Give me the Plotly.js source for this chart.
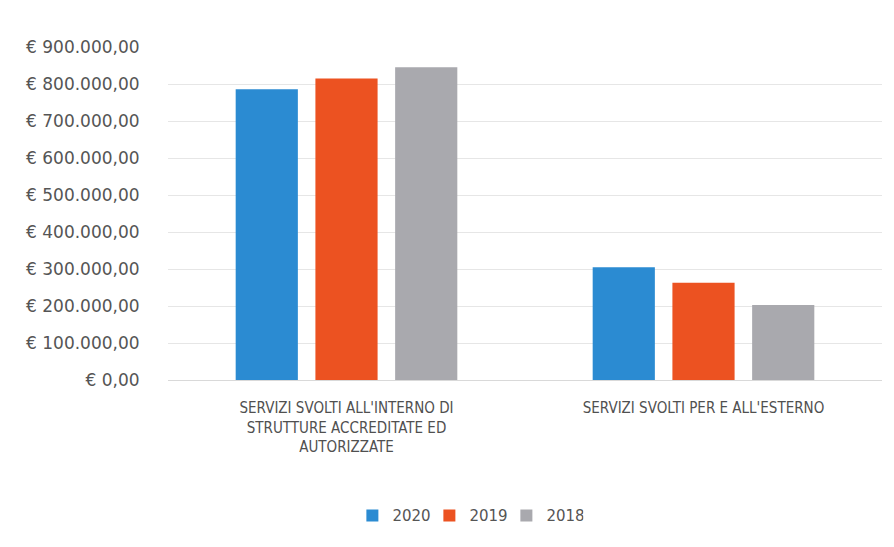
<!DOCTYPE html>
<html>
<head>
<meta charset="utf-8">
<script src="https://cdn.plot.ly/plotly-3.0.1.min.js"></script>
<style>
  html, body { margin: 0; padding: 0; background: #ffffff; }
  #chart { width: 894px; height: 547px; }
</style>
</head>
<body>
<div id="chart"></div>
<script>
const categories = [
  "SERVIZI SVOLTI ALL'INTERNO DI<br>STRUTTURE ACCREDITATE ED<br>AUTORIZZATE",
  "SERVIZI SVOLTI PER E ALL'ESTERNO"
];
const values2020 = [786000, 305000];
const values2019 = [815000, 263000];
const values2018 = [845000, 203000];
const yTickVals = [0, 100000, 200000, 300000, 400000, 500000, 600000, 700000, 800000, 900000];
const yTickText = ["€ 0,00", "€ 100.000,00", "€ 200.000,00", "€ 300.000,00", "€ 400.000,00",
                   "€ 500.000,00", "€ 600.000,00", "€ 700.000,00", "€ 800.000,00", "€ 900.000,00"];

const condFam = "'DejaVu Sans Condensed', 'Liberation Sans Narrow', Lato, sans-serif";
const wideFam = "'DejaVu Sans', Verdana, sans-serif";

const traces = [
  { type: 'bar', name: '2020', x: categories, y: values2020, marker: { color: '#2b8bd2' } },
  { type: 'bar', name: '2019', x: categories, y: values2019, marker: { color: '#ec5221' } },
  { type: 'bar', name: '2018', x: categories, y: values2018, marker: { color: '#a9a9ae' } }
];

const layout = {
  width: 894, height: 547,
  margin: { l: 168, r: 12, t: 47, b: 167 },
  paper_bgcolor: '#ffffff', plot_bgcolor: '#ffffff',
  barmode: 'group', bargap: 0.33, bargroupgap: 0.22,
  font: { family: condFam, size: 14, color: '#555555' },
  showlegend: true,
  legend: {
    orientation: 'h', x: 0.42, xanchor: 'center', y: -0.408, yanchor: 'middle',
    entrywidth: 32, entrywidthmode: 'pixels',
    font: { family: wideFam, size: 15, color: '#555555' }
  },
  xaxis: {
    type: 'category', tickvals: categories, ticktext: categories,
    ticks: 'outside', ticklen: 14, tickcolor: 'rgba(0,0,0,0)',
    showgrid: false, showline: false, zeroline: false,
    tickfont: { family: condFam, size: 15, color: '#505050' }
  },
  yaxis: {
    range: [0, 900000], tickvals: yTickVals, ticktext: yTickText,
    ticks: 'outside', ticklen: 24, tickcolor: 'rgba(0,0,0,0)',
    showgrid: true, gridcolor: '#e6e6e6', gridwidth: 1,
    zeroline: true, zerolinecolor: '#d9d9d9', zerolinewidth: 1,
    showline: false, fixedrange: true,
    tickfont: { family: wideFam, size: 17, color: '#555555' }
  }
};

Plotly.newPlot('chart', traces, layout, { displayModeBar: false, staticPlot: true });
</script>
</body>
</html>
